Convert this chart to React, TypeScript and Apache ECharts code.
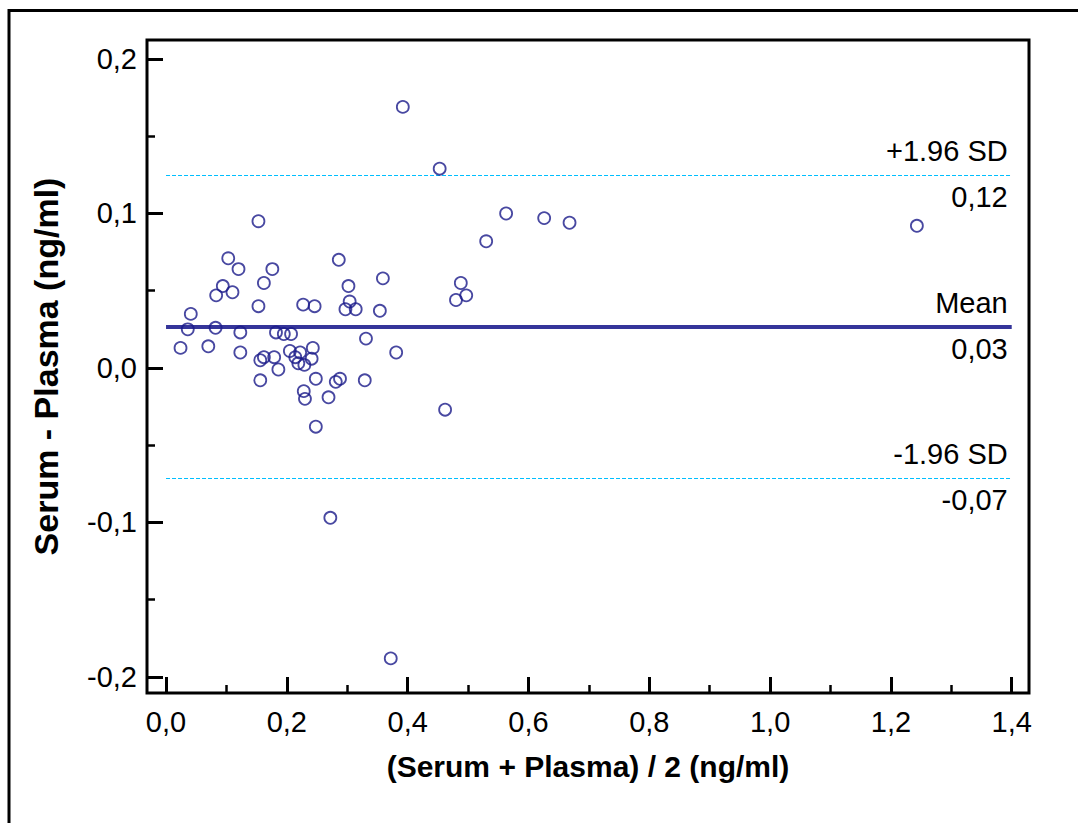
import React, { useEffect, useRef } from "react";
import * as echarts from "echarts";

// Mean of the two methods (ng/ml)
const meanValues = [
  0.024, 0.036, 0.041, 0.070, 0.082, 0.083, 0.094, 0.103, 0.110, 0.120,
  0.123, 0.123, 0.153, 0.153, 0.156, 0.162, 0.156, 0.162, 0.176, 0.179,
  0.182, 0.186, 0.195, 0.207, 0.205, 0.222, 0.214, 0.219, 0.229, 0.243,
  0.241, 0.227, 0.246, 0.248, 0.228, 0.230, 0.248, 0.269, 0.272, 0.281,
  0.288, 0.286, 0.302, 0.304, 0.297, 0.314, 0.329, 0.331, 0.354, 0.359,
  0.372, 0.381, 0.392, 0.453, 0.462, 0.480, 0.488, 0.497, 0.530, 0.563,
  0.626, 0.668, 1.243,
];
// Difference Serum - Plasma (ng/ml)
const diffValues = [
  0.013, 0.025, 0.035, 0.014, 0.026, 0.047, 0.053, 0.071, 0.049, 0.064,
  0.023, 0.010, 0.095, 0.040, 0.005, 0.007, -0.008, 0.055, 0.064, 0.007,
  0.023, -0.001, 0.022, 0.022, 0.011, 0.010, 0.007, 0.003, 0.002, 0.013,
  0.006, 0.041, 0.040, -0.007, -0.015, -0.020, -0.038, -0.019, -0.097, -0.009,
  -0.007, 0.070, 0.053, 0.043, 0.038, 0.038, -0.008, 0.019, 0.037, 0.058,
  -0.188, 0.010, 0.169, 0.129, -0.027, 0.044, 0.055, 0.047, 0.082, 0.100,
  0.097, 0.094, 0.092,
];

const xTicks = [0, 0.2, 0.4, 0.6, 0.8, 1.0, 1.2, 1.4];
const xMinorTicks = [0.1, 0.3, 0.5, 0.7, 0.9, 1.1, 1.3];
const yTicks = [-0.2, -0.1, 0, 0.1, 0.2];
const yMinorTicks = [-0.15, -0.05, 0.05, 0.15];

const refValues = [0.1246, 0.0265, -0.0716];
const refNames = ["+1.96 SD", "Mean", "-1.96 SD"];
const refValueLabels = ["0,12", "0,03", "-0,07"];
const refLineStart = 0;
const refLineEnd = 1.4;

const X_MIN = -0.0315;
const X_MAX = 1.4286;
const Y_MIN = -0.2104;
const Y_MAX = 0.2123;

const FONT = "'Liberation Sans', Arial, Helvetica, sans-serif";
const fmt = (v: number) => v.toFixed(1).replace(".", ",");

export default function App() {
  const ref = useRef<HTMLDivElement>(null);
  useEffect(() => {
    if (!ref.current) return;
    const chart = echarts.init(ref.current, undefined, { renderer: "svg" });
    const points = meanValues.map((x, i) => [x, diffValues[i]]);

    const refLineStyle = (i: number) =>
      i === 1
        ? { color: "#35359a", width: 4, type: "solid" as const, opacity: 1 }
        : { color: "#00bfff", width: 1, type: [4, 2] as any, opacity: 1 };

    const labelBase = {
      show: true,
      color: "#000",
      fontSize: 29,
      fontFamily: FONT,
    };

    const refSeries = refValues.map((v, i) => ({
      type: "scatter",
      xAxisIndex: 0,
      yAxisIndex: 0,
      data: [],
      silent: true,
      z: 2,
      markLine: {
        silent: true,
        symbol: ["none", "none"],
        lineStyle: refLineStyle(i),
        label: { ...labelBase },
        data: [
          [
            {
              coord: [refLineStart, v],
              label: {
                ...labelBase,
                position: "insideEndTop",
                formatter: refNames[i],
                distance: [4, 10],
              },
            },
            { coord: [refLineEnd, v] },
          ],
          [
            {
              coord: [refLineStart, v],
              lineStyle: { color: "rgba(0,0,0,0)", width: 0 },
              label: {
                ...labelBase,
                position: "insideEndBottom",
                formatter: refValueLabels[i],
                distance: [4, 7],
              },
            },
            { coord: [refLineEnd, v] },
          ],
        ],
      },
    }));

    const tickLabel = {
      color: "#000",
      fontSize: 29,
      fontFamily: FONT,
    };

    chart.setOption({
      animation: false,
      backgroundColor: "#fff",
      textStyle: { fontFamily: FONT },
      grid: {
        left: 147,
        top: 40,
        right: 49,
        bottom: 130,
        show: true,
        borderColor: "#000",
        borderWidth: 3,
        backgroundColor: "transparent",
      },
      graphic: [
        {
          type: "rect",
          silent: true,
          z: -10,
          shape: { x: 9, y: 10.5, width: 1300, height: 1100 },
          style: { fill: "none", stroke: "#000", lineWidth: 3 },
        },
      ],
      xAxis: [
        {
          type: "value",
          min: X_MIN,
          max: X_MAX,
          position: "bottom",
          axisLine: { show: false, onZero: false },
          splitLine: { show: false },
          axisTick: {
            show: true,
            inside: true,
            length: 16,
            customValues: xTicks,
            lineStyle: { color: "#000", width: 3 },
          },
          axisLabel: {
            ...tickLabel,
            customValues: xTicks,
            formatter: fmt,
            margin: 14,
          },
          name: "(Serum + Plasma) / 2 (ng/ml)",
          nameLocation: "middle",
          nameGap: 58,
          nameTextStyle: {
            color: "#000",
            fontSize: 30,
            fontWeight: "bold",
            fontFamily: FONT,
          },
        },
        {
          type: "value",
          min: X_MIN,
          max: X_MAX,
          position: "bottom",
          axisLine: { show: false, onZero: false },
          splitLine: { show: false },
          axisTick: {
            show: true,
            inside: true,
            length: 8,
            customValues: xMinorTicks,
            lineStyle: { color: "#000", width: 2.5 },
          },
          axisLabel: { show: false },
        },
      ],
      yAxis: [
        {
          type: "value",
          min: Y_MIN,
          max: Y_MAX,
          position: "left",
          axisLine: { show: false, onZero: false },
          splitLine: { show: false },
          axisTick: {
            show: true,
            inside: true,
            length: 16,
            customValues: yTicks,
            lineStyle: { color: "#000", width: 3 },
          },
          axisLabel: {
            ...tickLabel,
            customValues: yTicks,
            formatter: fmt,
            margin: 10,
          },
          name: "Serum - Plasma (ng/ml)",
          nameLocation: "middle",
          nameGap: 84,
          nameTextStyle: {
            color: "#000",
            fontSize: 34,
            fontWeight: "bold",
            fontFamily: FONT,
          },
        },
        {
          type: "value",
          min: Y_MIN,
          max: Y_MAX,
          position: "left",
          axisLine: { show: false, onZero: false },
          splitLine: { show: false },
          axisTick: {
            show: true,
            inside: true,
            length: 8,
            customValues: yMinorTicks,
            lineStyle: { color: "#000", width: 2.5 },
          },
          axisLabel: { show: false },
        },
      ],
      series: [
        ...refSeries,
        {
          type: "scatter",
          xAxisIndex: 0,
          yAxisIndex: 0,
          symbol: "circle",
          symbolSize: 12,
          data: points,
          itemStyle: {
            color: "rgba(255,255,255,0)",
            borderColor: "#1a1a8a",
            borderWidth: 1.8,
          },
          z: 5,
        },
      ],
    });
    return () => chart.dispose();
  }, []);

  return (
    <div
      ref={ref}
      style={{
        position: "fixed",
        left: 0,
        top: 0,
        width: 1078,
        height: 823,
        background: "#fff",
      }}
    />
  );
}
